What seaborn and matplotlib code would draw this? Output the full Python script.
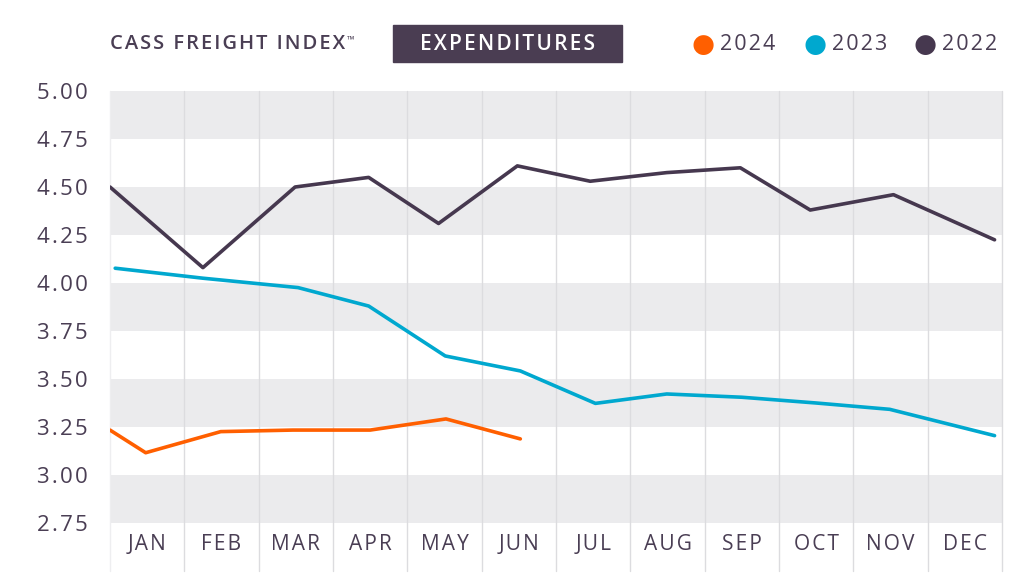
import pandas as pd
import matplotlib
matplotlib.use("Agg")
import matplotlib.pyplot as plt
import seaborn as sns
from matplotlib.patches import Rectangle

# month slots: JAN spans 0..1, FEB 1..2, ...
months = ["JAN", "FEB", "MAR", "APR", "MAY", "JUN",
          "JUL", "AUG", "SEP", "OCT", "NOV", "DEC"]

x_2022 = [0.0, 1.25, 2.49, 3.48, 4.42, 5.48, 6.46, 7.49, 8.48, 9.42, 10.54, 11.9]
v_2022 = [4.50, 4.08, 4.50, 4.55, 4.31, 4.61, 4.53, 4.575, 4.60, 4.38, 4.46, 4.225]

x_2023 = [0.07, 1.25, 2.53, 3.48, 4.51, 5.52, 6.53, 7.49, 8.5, 9.5, 10.49, 11.9]
v_2023 = [4.077, 4.025, 3.976, 3.88, 3.62, 3.542, 3.373, 3.422, 3.405, 3.375, 3.342, 3.205]

x_2024 = [0.0, 0.48, 1.49, 2.46, 3.5, 4.52, 5.52]
v_2024 = [3.234, 3.116, 3.226, 3.234, 3.234, 3.292, 3.188]

y_ticks = [2.75, 3.00, 3.25, 3.50, 3.75, 4.00, 4.25, 4.50, 4.75, 5.00]
series = ["2024", "2023", "2022"]
colors = {"2024": "#FF5F00", "2023": "#00A8CF", "2022": "#46384F"}
text_col = "#4A3E54"

df = pd.concat([
    pd.DataFrame({"x": x_2024, "value": v_2024, "year": "2024"}),
    pd.DataFrame({"x": x_2023, "value": v_2023, "year": "2023"}),
    pd.DataFrame({"x": x_2022, "value": v_2022, "year": "2022"}),
])


def spaced(s):
    # fake letter tracking with hair spaces
    return "\u200a".join(s)


sns.set_theme(style="white")
plt.rcParams["font.family"] = ["Open Sans", "DejaVu Sans"]

fig = plt.figure(figsize=(10.24, 5.78), dpi=100)
ax = fig.add_axes([110 / 1024, 55 / 578, 892 / 1024, 432 / 578])

# alternating gray bands
for i in range(0, len(y_ticks) - 1, 2):
    ax.axhspan(y_ticks[i], y_ticks[i + 1], color="#EBEBED", lw=0, zorder=0)

# vertical month dividers, running down through the label strip
for i in range(len(months) + 1):
    ax.axvline(i, ymin=-0.11, ymax=1, color="#DCDCDF" if i else "#EEEEF0",
               lw=1, clip_on=False, zorder=1)

sns.lineplot(data=df, x="x", y="value", hue="year", palette=colors,
             hue_order=series, lw=2.6, ax=ax, legend=False, sort=False, zorder=3)

ax.set_xlim(0, 12)
ax.set_ylim(2.75, 5.0)
ax.set_yticks(y_ticks)
ax.set_yticklabels([spaced(f"{t:.2f}") for t in y_ticks], fontsize=16, color=text_col)
ax.set_xticks([i + 0.5 for i in range(12)])
ax.set_xticklabels([spaced(m) for m in months], fontsize=15, color=text_col)
ax.tick_params(axis="y", length=11, width=1, color="#D5D5D8", pad=5)
ax.tick_params(axis="x", length=0, pad=8)
ax.set_xlabel("")
ax.set_ylabel("")
for s in ax.spines.values():
    s.set_visible(False)

# title and badge
title = fig.text(110 / 1024, 1 - 44 / 578, spaced("CASS FREIGHT INDEX"),
                 fontsize=14.5, fontweight="semibold", color=text_col,
                 va="center", ha="left")
ax.annotate("™", xy=(1, 1), xycoords=title, xytext=(1, -4),
            textcoords="offset points", fontsize=7, color=text_col,
            va="center", ha="left", annotation_clip=False)
fig.patches.append(Rectangle((393 / 1024, 1 - 62 / 578), 229 / 1024, 37 / 578,
                             transform=fig.transFigure, color="#4A3D52"))
fig.text(508 / 1024, 1 - 44 / 578, spaced("EXPENDITURES"), fontsize=15,
         fontweight="semibold", color="white", va="center", ha="center")

# legend
leg_x = [703, 815, 925]
for lx, yr in zip(leg_x, series):
    fig.text(lx / 1024, 1 - 45 / 578, "●", fontsize=19, color=colors[yr],
             va="center", ha="center", family="DejaVu Sans")
    fig.text((lx + 17) / 1024, 1 - 45 / 578, spaced(yr), fontsize=15.5,
             color=text_col, va="center", ha="left")

fig.savefig("out.png", dpi=100)
